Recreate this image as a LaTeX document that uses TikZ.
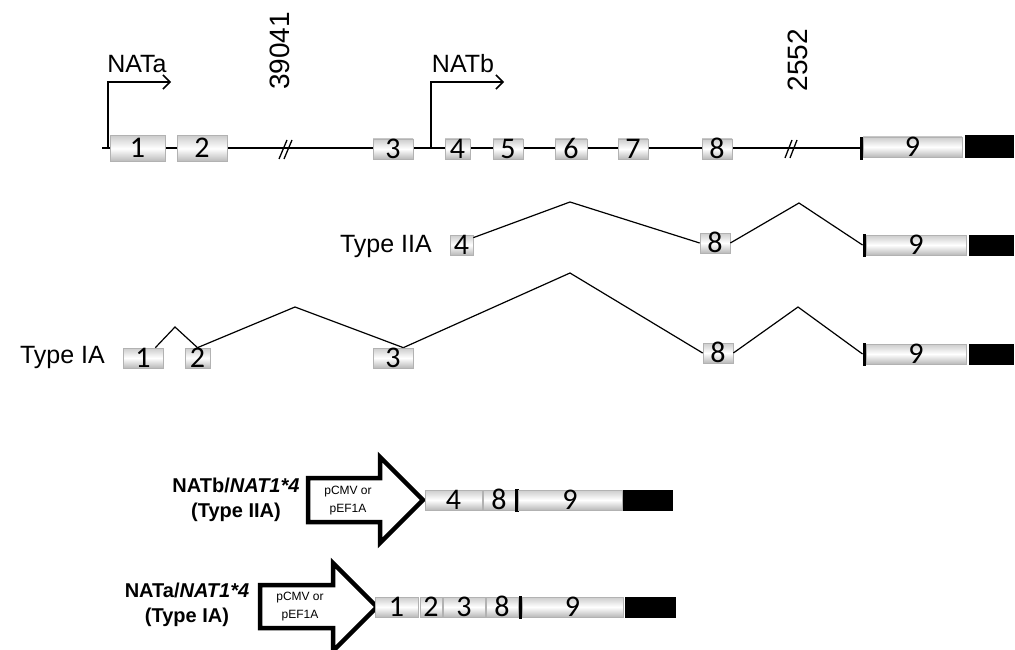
\documentclass[tikz,border=0pt]{standalone}
\usepackage{fontspec}
\setmainfont{Liberation Sans}
\newfontfamily\exfont[Numbers=Lining]{Carlito}
\usetikzlibrary{arrows.meta,calc}
\begin{document}
\begin{tikzpicture}[x=1pt,y=-1pt,
  exon/.style={draw=gray!60, line width=0.7, top color=gray!40, bottom color=gray!55, middle color=white,
    inner sep=0, minimum height=20, text=black, text height=19, text depth=0,
    font=\exfont\fontsize{30}{30}\selectfont},
  utr/.style={draw=black, fill=black, inner sep=0, minimum height=22},
  tickbox/.style={draw=black, fill=black, inner sep=0, minimum width=2.5, minimum height=22},
  intron/.style={draw=black, line width=1.2},
  gene/.style={draw=black, line width=2.6},
  brk/.style={draw=black, line width=1.3},
  promo/.style={draw=black, line width=1.5, -{Straight Barb[length=7,width=14]}},
  lbl/.style={font=\fontsize{25}{25}\selectfont, inner sep=0},
  cons/.style={font=\bfseries\fontsize{20}{25}\selectfont, align=center, inner sep=0},
  prom/.style={draw=black, line width=4.5, line join=miter, fill=white},
  promtxt/.style={font=\fontsize{12}{18}\selectfont, align=center, inner sep=0}
]
\useasboundingbox (0,0) rectangle (1015,650);

% ---------- genomic structure ----------
\coordinate (gs) at (102,148);
\coordinate (ge) at (860,148);
\draw[gene] (gs) -- (ge);
\node[exon, minimum width=55, minimum height=26] (m1) at (137.5,148.5) {1};
\node[exon, minimum width=50, minimum height=26] (m2) at (202,148.5) {2};
\node[exon, minimum width=40] (m3) at (393,149) {3};
\node[exon, minimum width=25] (m4) at (457.5,149) {4};
\node[exon, minimum width=30] (m5) at (508,149) {5};
\node[exon, minimum width=32] (m6) at (571,149) {6};
\node[exon, minimum width=30] (m7) at (633,149) {7};
\node[exon, minimum width=30] (m8) at (717,149) {8};
\node[tickbox] (mt) at (861,148) {};
\node[exon, minimum width=99] (m9) at (912.5,147) {9};
\node[utr, minimum width=48] (mu) at (989,146) {};

% break marks
\draw[brk] (279,159) -- (287,140);
\draw[brk] (284,159) -- (292,140);
\draw[brk] (785,158) -- (792,140);
\draw[brk] (790,158) -- (797,140);

% promoters
\coordinate (pa) at (108,148);
\coordinate (pae) at (171,82);
\draw[promo] (pa) |- (pae);
\coordinate (pb) at (431,148);
\coordinate (pbe) at (504,82);
\draw[promo] (pb) |- (pbe);
\node[lbl] (nata) at (137,64) {NATa};
\node[lbl] (natb) at (463,64) {NATb};
\node[lbl, font=\fontsize{28}{28}\selectfont, rotate=90] (len1) at (280,51) {39041};
\node[lbl, font=\fontsize{28}{28}\selectfont, rotate=90] (len2) at (798,60) {2552};

% ---------- Type IIA ----------
\node[lbl, anchor=east] (t2) at (432,246) {Type IIA};
\node[exon, minimum width=23] (b4) at (461.5,245) {4};
\node[exon, minimum width=30] (b8) at (715,243) {8};
\node[tickbox] (bt) at (864,245) {};
\node[exon, minimum width=100] (b9) at (916,245) {9};
\node[utr, minimum width=44, minimum height=20] (bu) at (991,245) {};
\coordinate (pk1) at (570,202);
\coordinate (pk2) at (799,203);
\draw[intron] ($(b4.north east)+(0,3)$) -- (pk1) -- (b8.west);
\draw[intron] (b8.east) -- (pk2) -- (bt.west);

% ---------- Type IA ----------
\node[lbl, anchor=east] (t1) at (105,357) {Type IA};
\node[exon, minimum width=40] (a1) at (143,358) {1};
\node[exon, minimum width=25] (a2) at (197.5,358) {2};
\node[exon, minimum width=40] (a3) at (393,358) {3};
\node[exon, minimum width=30] (a8) at (718,353) {8};
\node[tickbox] (at) at (864,354) {};
\node[exon, minimum width=100] (a9) at (916,354) {9};
\node[utr, minimum width=44, minimum height=20] (au) at (991,354) {};
\coordinate (q1) at (175,327);
\coordinate (q2) at (295,307);
\coordinate (q3) at (570,273);
\coordinate (q4) at (798,307);
\draw[intron] ($(a1.north east)+(-8,0)$) -- (q1) -- (a2.north);
\draw[intron] (a2.north) -- (q2) -- ($(a3.north east)+(-10,0)$);
\draw[intron] ($(a3.north east)+(-10,0)$) -- (q3) -- (a8.west);
\draw[intron] (a8.east) -- (q4) -- (at.west);

% ---------- construct NATb ----------
\node[cons] (c2lbl) at (236,500) {NATb/\textit{NAT1*4}\\(Type IIA)};
\draw[prom] (308,478) -- (380,478) -- (380,457) -- (423,500) -- (380,543) -- (380,522) -- (308,522) -- cycle;
\node[promtxt] (c2p) at (348,501) {pCMV or\\pEF1A};
\node[exon, minimum width=57] (c4) at (453.5,500) {4};
\node[exon, minimum width=32] (c8) at (499,500) {8};
\node[tickbox] (ct) at (516.5,500) {};
\node[exon, minimum width=104] (c9) at (570,500) {9};
\node[utr, minimum width=49, minimum height=20] (cu) at (647.5,500) {};

% ---------- construct NATa ----------
\node[cons] (c1lbl) at (187,605) {NATa/\textit{NAT1*4}\\(Type IA)};
\draw[prom] (260,585) -- (333,585) -- (333,563) -- (377,607) -- (333,651) -- (333,628) -- (260,628) -- cycle;
\node[promtxt] (c1p) at (300,607) {pCMV or\\pEF1A};
\node[exon, minimum width=43] (d1) at (396.5,607) {1};
\node[exon, minimum width=22] (d2) at (431,607) {2};
\node[exon, minimum width=42] (d3) at (464,607) {3};
\node[exon, minimum width=32] (d8) at (502,607) {8};
\node[tickbox] (dt) at (520,607) {};
\node[exon, minimum width=101] (d9) at (572.5,607) {9};
\node[utr, minimum width=50, minimum height=20] (du) at (650,607) {};
\end{tikzpicture}
\end{document}
